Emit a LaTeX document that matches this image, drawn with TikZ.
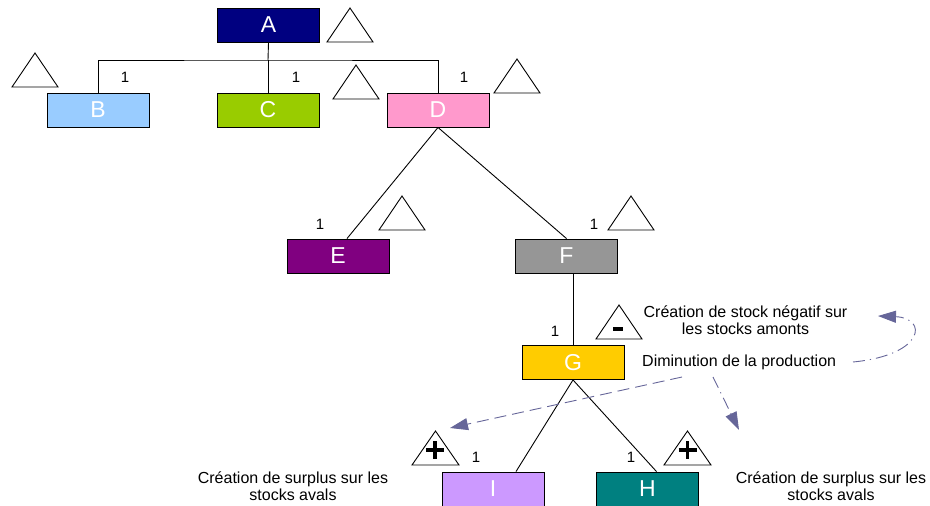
\documentclass[tikz,border=0pt]{standalone}
\usepackage{fontspec}
\setmainfont{Liberation Sans}
\usetikzlibrary{arrows.meta,calc}
\definecolor{cA}{HTML}{000080}
\definecolor{cB}{HTML}{99CCFF}
\definecolor{cC}{HTML}{99CC00}
\definecolor{cD}{HTML}{FF99CC}
\definecolor{cE}{HTML}{800080}
\definecolor{cF}{HTML}{969696}
\definecolor{cG}{HTML}{FFCC00}
\definecolor{cI}{HTML}{CC99FF}
\definecolor{cH}{HTML}{008080}
\definecolor{arr}{HTML}{666699}
\tikzset{
  box/.style={draw=black, line width=0.9pt, minimum width=102pt, minimum height=34pt, inner sep=0pt, text=white, font=\fontsize{23}{26}\selectfont},
  one/.style={inner sep=0pt, font=\fontsize{15}{18}\selectfont},
  note/.style={inner sep=0pt, align=center, font=\fontsize{16}{17}\selectfont},
  link/.style={draw=black, line width=0.9pt},
  tri/.style={draw=black, line width=0.9pt, line join=miter},
  sign/.style={draw=black, line width=3.6pt},
  dlong/.style={draw=arr, line width=0.9pt, dash pattern=on 12pt off 6pt, -{Triangle[length=18pt,width=12pt]}},
  ddot/.style={draw=arr, line width=0.9pt, dash pattern=on 12pt off 5pt on 1.2pt off 5pt, -{Triangle[length=18pt,width=12pt]}},
}
\begin{document}
\begin{tikzpicture}[x=1pt,y=-1pt]
\useasboundingbox (0,0) rectangle (930,506);
% boxes
\node[box, fill=cA] (A) at (268.5,25) {A};
\node[box, fill=cB] (B) at (98,110) {B};
\node[box, fill=cC] (C) at (268,110) {C};
\node[box, fill=cD] (D) at (438,110) {D};
\node[box, fill=cE] (E) at (338,256) {E};
\node[box, fill=cF] (F) at (566.5,256) {F};
\node[box, fill=cG] (G) at (573,362.5) {G};
\node[box, fill=cI] (I) at (493,489) {I};
\node[box, fill=cH] (H) at (647.5,489) {H};
% tree links
\coordinate (bar) at (268,60);
\draw[link] (A.south) -- (bar);
\draw[link] (B.north) |- (bar) -| (D.north);
\draw[link] (bar) -- (C.north);
\draw[link] (D.south) -- ($(E.north)+(9,0)$);
\draw[link] (D.south) -- (F.north);
\draw[link] (G.north |- F.south) -- (G.north);
\draw[link] (G.south) -- ($(I.north)+(23,0)$);
\draw[link] (G.south) -- ($(H.north)+(9,0)$);
% ones
\node[one] (n1) at (125,77) {1};
\node[one] (n2) at (296,77) {1};
\node[one] (n3) at (464,77) {1};
\node[one] (n4) at (320,224) {1};
\node[one] (n5) at (594,224) {1};
\node[one] (n6) at (555,331) {1};
\node[one] (n7) at (476,457) {1};
\node[one] (n8) at (631,457) {1};
% triangles
\draw[tri] (327,42) -- (350,8) -- (373,42) -- cycle;
\draw[tri] (12,87) -- (35,53) -- (58,87) -- cycle;
\draw[tri] (333,99) -- (356,65) -- (379,99) -- cycle;
\draw[tri] (494,93) -- (517,59) -- (540,93) -- cycle;
\draw[tri] (379,230) -- (402,196) -- (425,230) -- cycle;
\draw[tri] (608,230) -- (631,196) -- (654,230) -- cycle;
\draw[tri] (596,339) -- (619,305) -- (642,339) -- cycle;
\draw[tri] (412,465) -- (435.5,431) -- (459,465) -- cycle;
\draw[tri] (664,465) -- (687.5,431) -- (711,465) -- cycle;
\fill (613,327) rectangle (623,331);
\draw[sign] (426,450) -- (444,450) (435,441) -- (435,459);
\draw[sign] (678.5,450) -- (696.5,450) (687.5,441) -- (687.5,459);
% notes
\node[note] (t1) at (745.5,320.5) {Création de stock négatif sur\\les stocks amonts};
\node[note, anchor=west] (t2) at (642,362) {Diminution de la production};
\node[note] (t3) at (293,486.5) {Création de surplus sur les\\stocks avals};
\node[note] (t4) at (831,486.5) {Création de surplus sur les\\stocks avals};
% arrows
\coordinate (s1) at (682,377);
\coordinate (e1) at (450,428);
\draw[dlong] (s1) -- (e1);
\coordinate (s2) at (713,377);
\coordinate (e2) at (739,430);
\draw[ddot] (s2) -- (e2);
\coordinate (s3) at (853,362);
\coordinate (e3) at (878,316);
\draw[ddot] (s3) .. controls (925,355) and (928,318) .. (e3);
\end{tikzpicture}
\end{document}
